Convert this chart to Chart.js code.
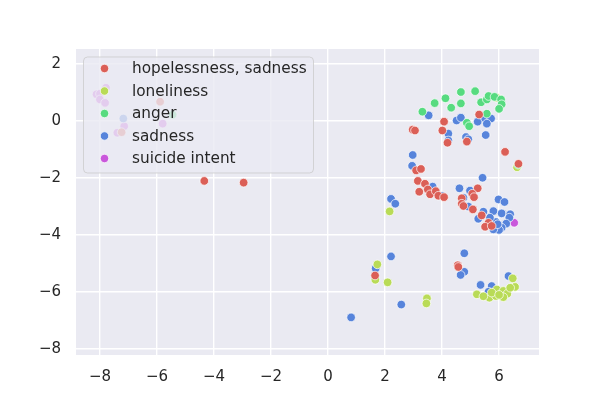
<!DOCTYPE html>
<html>
<head>
<meta charset="utf-8">
<script src="https://cdn.jsdelivr.net/npm/chart.js@4"></script>
<style>
  html, body { margin: 0; padding: 0; background: #ffffff; }
  #wrap { width: 600px; height: 400px; }
</style>
</head>
<body>
<div id="wrap"><canvas id="grafico" width="600" height="400"></canvas></div>
<script>
// categorias y colores (paleta hls de seaborn)
const categorias = ['hopelessness, sadness', 'loneliness', 'anger', 'sadness', 'suicide intent'];
const colores = ['#db5f57', '#b9db57', '#57db80', '#5784db', '#c957db'];
// orden de dibujo: menor = encima
const ordenDibujo = [0, 2, 1, 3, 4];
const ticksX = [-8, -6, -4, -2, 0, 2, 4, 6];
const ticksY = [-8, -6, -4, -2, 0, 2];

// puntos [x, y]
const puntosHopelessness = [
  [-5.89, 0.68], [-7.24, -0.39], [-4.34, -2.1], [-2.96, -2.16],
  [2.97, -0.3], [3.05, -0.33], [4.07, -0.02], [4.01, -0.33], [4.19, -0.76],
  [4.87, -0.72], [5.3, 0.23], [6.21, -1.08], [6.68, -1.5],
  [3.09, -1.73], [3.26, -1.68], [3.15, -2.1], [3.4, -2.2], [3.2, -2.48],
  [3.5, -2.4], [3.58, -2.57], [3.78, -2.46], [3.87, -2.62], [4.07, -2.67],
  [5.25, -2.36], [5.06, -2.55], [5.12, -2.67], [4.69, -2.71], [4.69, -2.9],
  [4.75, -2.98], [5.08, -3.1], [5.39, -3.31], [5.63, -3.57], [5.51, -3.71],
  [5.74, -3.68], [4.55, -5.06], [4.57, -5.12], [1.65, -5.42]
];
const puntosLoneliness = [
  [2.16, -3.17], [1.73, -5.03], [1.66, -5.57], [2.09, -5.66], [3.47, -6.22],
  [3.45, -6.4], [5.92, 0.82], [6.63, -1.62], [6.48, -5.52], [6.56, -5.82],
  [5.22, -6.08], [5.66, -6.2], [5.89, -6.14], [5.92, -5.91], [6.15, -5.96],
  [6.29, -6.06], [6.39, -5.85], [6.15, -6.18], [5.74, -6.02], [6.0, -6.1],
  [5.45, -6.15]
];
const puntosAnger = [
  [-5.45, 0.22], [3.31, 0.33], [3.74, 0.63], [4.12, 0.8], [4.32, 0.47],
  [4.66, 1.02], [4.66, 0.62], [5.16, 1.05], [5.37, 0.66], [5.57, 0.76],
  [5.63, 0.88], [5.84, 0.85], [6.07, 0.76], [6.09, 0.59], [6.0, 0.43],
  [5.57, 0.26], [4.87, -0.06], [4.95, -0.18], [6.67, -1.53]
];
const puntosSadness = [
  [-7.18, 0.09], [3.53, 0.2], [4.51, 0.02], [4.66, 0.12], [5.25, -0.02],
  [5.51, 0.09], [5.72, 0.09], [5.57, -0.09], [5.53, -0.49], [4.84, -0.56],
  [4.92, -0.64], [4.22, -0.44], [4.22, -0.68], [2.97, -1.19], [2.95, -1.57],
  [5.42, -1.99], [3.67, -2.3], [4.01, -2.63], [2.21, -2.73], [2.36, -2.9],
  [4.61, -2.36], [4.98, -2.44], [4.75, -2.69], [4.92, -3.0], [5.98, -2.75],
  [6.19, -2.84], [5.45, -3.18], [5.27, -3.43], [5.8, -3.16], [6.09, -3.24],
  [6.39, -3.27], [6.36, -3.39], [5.89, -3.54], [6.25, -3.6], [6.09, -3.74],
  [6.0, -3.82], [5.8, -3.8], [5.68, -3.39], [5.95, -3.62], [2.21, -4.75],
  [1.67, -5.17], [2.57, -6.44], [0.81, -6.89], [4.78, -4.64], [4.78, -5.29],
  [4.65, -5.4], [6.33, -5.44], [5.35, -5.75], [5.74, -5.79], [5.63, -5.99]
];
const puntosSuicide = [
  [-8.12, 0.94], [-8.0, 0.96], [-7.79, 1.17], [-8.0, 0.76], [-7.82, 0.64],
  [-7.15, -0.18], [-7.39, -0.41], [-5.8, -0.09], [6.53, -3.57]
];

const series = [puntosHopelessness, puntosLoneliness, puntosAnger, puntosSadness, puntosSuicide];
const FUENTE = '"DejaVu Sans", sans-serif';

// fondo gris del area de trazado
const fondoPlugin = {
  id: 'fondo',
  beforeDraw(chart) {
    const { ctx, chartArea: a } = chart;
    ctx.save();
    ctx.fillStyle = '#eaeaf2';
    ctx.fillRect(a.left, a.top, a.right - a.left, a.bottom - a.top);
    ctx.restore();
  }
};

// leyenda dentro del grafico, semitransparente como en matplotlib
const leyendaPlugin = {
  id: 'leyendaInterna',
  afterDatasetsDraw(chart) {
    const ctx = chart.ctx;
    const x0 = 83.5, y0 = 57, w = 230, h = 116, r = 4;
    ctx.save();
    ctx.beginPath();
    ctx.roundRect(x0, y0, w, h, r);
    ctx.fillStyle = 'rgba(234,234,242,0.8)';
    ctx.fill();
    ctx.strokeStyle = 'rgba(204,204,204,0.8)';
    ctx.lineWidth = 1;
    ctx.stroke();

    ctx.font = '15.3px ' + FUENTE;
    ctx.textBaseline = 'middle';
    chart.data.datasets.forEach((ds, i) => {
      const cy = 68.5 + i * 22.5;
      ctx.beginPath();
      ctx.arc(104.5, cy, 4.2, 0, Math.PI * 2);
      ctx.fillStyle = ds.backgroundColor;
      ctx.fill();
      ctx.strokeStyle = '#ffffff';
      ctx.lineWidth = 0.7;
      ctx.stroke();
      ctx.fillStyle = '#262626';
      ctx.fillText(ds.label, 132, cy + 1);
    });
    ctx.restore();
  }
};

const datasets = categorias.map((nombre, i) => ({
  label: nombre,
  data: series[i].map(p => ({ x: p[0], y: p[1] })),
  order: ordenDibujo[i],
  backgroundColor: colores[i],
  borderColor: '#ffffff',
  borderWidth: 0.7,
  pointRadius: 4.3,
  pointHoverRadius: 4.3
}));

function filtrarTicks(lista) {
  return scale => { scale.ticks = lista.map(v => ({ value: v })); };
}

new Chart(document.getElementById('grafico'), {
  type: 'scatter',
  data: { datasets },
  options: {
    responsive: false,
    animation: false,
    devicePixelRatio: 1,
    layout: { padding: { top: 49, right: 61, left: 0, bottom: 0 } },
    plugins: {
      legend: { display: false },
      tooltip: { enabled: false }
    },
    scales: {
      x: {
        type: 'linear',
        min: -8.84,
        max: 7.40,
        afterBuildTicks: filtrarTicks(ticksX),
        afterFit: s => { s.height = 45; },
        border: { display: false },
        grid: { color: '#ffffff', lineWidth: 1.4, drawTicks: false },
        ticks: {
          padding: 13,
          color: '#262626',
          font: { family: FUENTE, size: 15 },
          callback: v => String(v).replace('-', '\u2212')
        }
      },
      y: {
        type: 'linear',
        min: -8.21,
        max: 2.53,
        afterBuildTicks: filtrarTicks(ticksY),
        afterFit: s => { s.width = 76; },
        border: { display: false },
        grid: { color: '#ffffff', lineWidth: 1.4, drawTicks: false },
        ticks: {
          padding: 15,
          color: '#262626',
          font: { family: FUENTE, size: 15 },
          callback: v => String(v).replace('-', '\u2212')
        }
      }
    }
  },
  plugins: [fondoPlugin, leyendaPlugin]
});
</script>
</body>
</html>
